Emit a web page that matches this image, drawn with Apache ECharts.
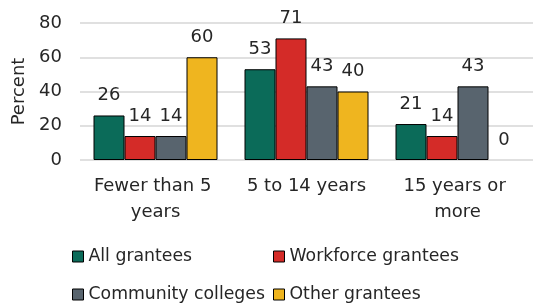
<!DOCTYPE html>
<html><head><meta charset="utf-8">
<script src="https://cdn.jsdelivr.net/npm/echarts@6/dist/echarts.min.js"></script>
<style>html,body{margin:0;padding:0;background:#fff}#c{width:533px;height:305px}</style>
</head><body><div id="c"></div>
<script>
const categories = ["Fewer than 5 years", "5 to 14 years", "15 years or more"];
const seriesNames = ["All grantees", "Workforce grantees", "Community colleges", "Other grantees"];
const allGrantees = [26, 53, 21];
const workforceGrantees = [14, 71, 14];
const communityColleges = [14, 43, 43];
const otherGrantees = [60, 40, 0];
const yTicks = [0, 20, 40, 60, 80];

const colors = ["#0b6b59", "#d42b28", "#58646e", "#efb51f"];
const values = [allGrantees, workforceGrantees, communityColleges, otherGrantees];
const font = "DejaVu Sans, sans-serif";
const txt = '#262626';

const legendPos = [[67, 243], [268, 243], [67, 281], [268, 281]];
const legendOrder = [0, 1, 2, 3];

const chart = echarts.init(document.getElementById('c'));
chart.setOption({
  animation: false,
  textStyle: {fontFamily: font},
  grid: {left: 80, top: 23, width: 460, height: 137, containLabel: false},
  xAxis: {
    type: 'category', data: categories,
    axisLine: {show: false}, axisTick: {show: false},
    axisLabel: {interval: 0, fontSize: 18, color: txt, margin: 13, width: 135, overflow: 'break', lineHeight: 26, fontFamily: font}
  },
  yAxis: {
    type: 'value', min: yTicks[0], max: yTicks[yTicks.length - 1], interval: 20,
    name: 'Percent', nameLocation: 'middle', nameGap: 48, nameRotate: 90,
    nameTextStyle: {fontSize: 18, color: txt, fontFamily: font},
    axisLabel: {fontSize: 18, color: txt, margin: 18, fontFamily: font},
    splitLine: {lineStyle: {color: '#d6d6d6', width: 1.5}},
    axisLine: {show: false}, axisTick: {show: false}
  },
  legend: legendOrder.map((k) => ({
    left: legendPos[k][0], top: legendPos[k][1], icon: 'rect', itemWidth: 11, itemHeight: 11, itemGap: 5,
    data: [seriesNames[k]], textStyle: {fontSize: 17.3, color: txt, fontFamily: font},
    itemStyle: {borderColor: '#000', borderWidth: 1}
  })),
  series: seriesNames.map((n, i) => ({
    name: n, type: 'bar', barWidth: 31, barGap: '0%',
    data: values[i].map(v => v === 0 ? {value: v, itemStyle: {borderWidth: 0}} : v),
    itemStyle: {color: colors[i], borderColor: '#000', borderWidth: 1},
    label: {show: true, position: 'top', distance: 11, fontSize: 18, color: txt, fontFamily: font}
  }))
});
</script></body></html>
